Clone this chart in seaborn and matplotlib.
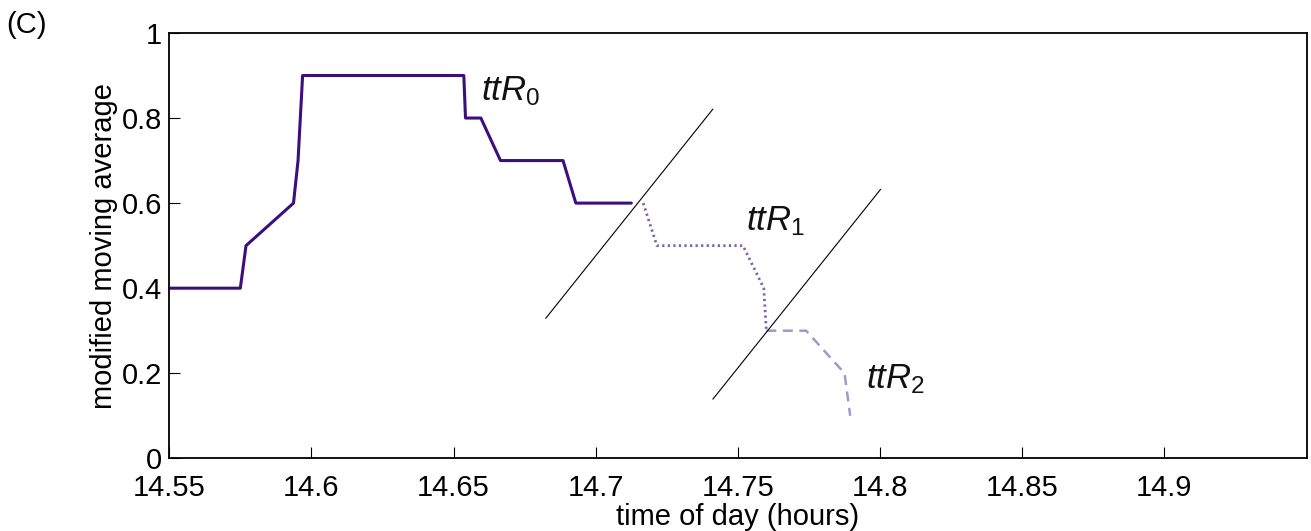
import matplotlib
matplotlib.use("Agg")
import matplotlib.pyplot as plt
import seaborn as sns
import pandas as pd

# ---- data ----
r0_x = [14.55, 14.575, 14.577, 14.5937, 14.5953, 14.5969, 14.6536, 14.6542, 14.6596, 14.6665, 14.6885, 14.693, 14.7125]
r0_y = [0.4, 0.4, 0.5, 0.6, 0.7, 0.9, 0.9, 0.8, 0.8, 0.7, 0.7, 0.6, 0.6]
r1_x = [14.7167, 14.7215, 14.7518, 14.7591, 14.760]
r1_y = [0.6, 0.5, 0.5, 0.4, 0.3]
r2_x = [14.760, 14.774, 14.7875, 14.7895]
r2_y = [0.3, 0.3, 0.2, 0.1]
sep1_x = [14.6824, 14.7412]
sep1_y = [0.329, 0.821]
sep2_x = [14.7412, 14.8002]
sep2_y = [0.139, 0.6325]
labels = [r"$\mathit{ttR}_{\mathit{0}}$", r"$\mathit{ttR}_{\mathit{1}}$", r"$\mathit{ttR}_{\mathit{2}}$"]
label_x = [14.6597, 14.7527, 14.7951]
label_y = [0.842, 0.535, 0.165]
xticks = [14.55, 14.6, 14.65, 14.7, 14.75, 14.8, 14.85, 14.9]
xtick_labels = ["14.55", "14.6", "14.65", "14.7", "14.75", "14.8", "14.85", "14.9"]
yticks = [0, 0.2, 0.4, 0.6, 0.8, 1.0]
ytick_labels = ["0", "0.2", "0.4", "0.6", "0.8", "1"]

sns.set_theme(style="white")
plt.rcParams["font.family"] = ["Liberation Sans", "DejaVu Sans"]
plt.rcParams["mathtext.fontset"] = "custom"
plt.rcParams["mathtext.it"] = "Liberation Sans:italic"
plt.rcParams["mathtext.rm"] = "Liberation Sans"
plt.rcParams["mathtext.sf"] = "Liberation Sans"

fig = plt.figure(figsize=(13.11, 5.31), dpi=100)
ax = fig.add_axes([0.1291, 0.1369, 0.9966 - 0.1291, 0.9379 - 0.1369])

c0, c1, c2 = "#3d0e7e", "#7a64ac", "#a596cb"

sns.lineplot(data=pd.DataFrame({"x": r0_x, "y": r0_y}), x="x", y="y", sort=False,
             estimator=None, ax=ax, color=c0, lw=2.2)
sns.lineplot(data=pd.DataFrame({"x": r1_x, "y": r1_y}), x="x", y="y", sort=False,
             estimator=None, ax=ax, color=c1, lw=2.0, linestyle=(0, (0.8, 1.2)))
sns.lineplot(data=pd.DataFrame({"x": r2_x, "y": r2_y}), x="x", y="y", sort=False,
             estimator=None, ax=ax, color=c2, lw=1.8, linestyle=(0, (4.0, 2.6)))
for sx, sy in [(sep1_x, sep1_y), (sep2_x, sep2_y)]:
    sns.lineplot(x=sx, y=sy, sort=False, estimator=None, ax=ax, color="black", lw=0.8)

for t, lx, ly in zip(labels, label_x, label_y):
    ax.text(lx, ly, t, fontsize=25, ha="left", va="baseline", color="#111111")

ax.set_xlim(14.55, 14.95)
ax.set_ylim(0, 1)
ax.set_xticks(xticks)
ax.set_xticklabels(xtick_labels)
ax.set_yticks(yticks)
ax.set_yticklabels(ytick_labels)
ax.tick_params(axis="both", direction="in", length=8, width=0.8, labelsize=21,
               colors="black", bottom=True, left=True, top=False, right=False)
ax.tick_params(axis="x", pad=11)
ax.tick_params(axis="y", pad=5)
for s in ax.spines.values():
    s.set_visible(True)
    s.set_color("black")
    s.set_linewidth(1.3)

ax.set_xlabel("time of day (hours)", fontsize=21, labelpad=1, color="black")
ax.set_ylabel("modified moving average", fontsize=21, labelpad=3, color="black")
ax.grid(False)

fig.text(0.005, 0.953, "(C)", fontsize=21, ha="left", va="center", color="black")

fig.savefig("out.png", dpi=100)
